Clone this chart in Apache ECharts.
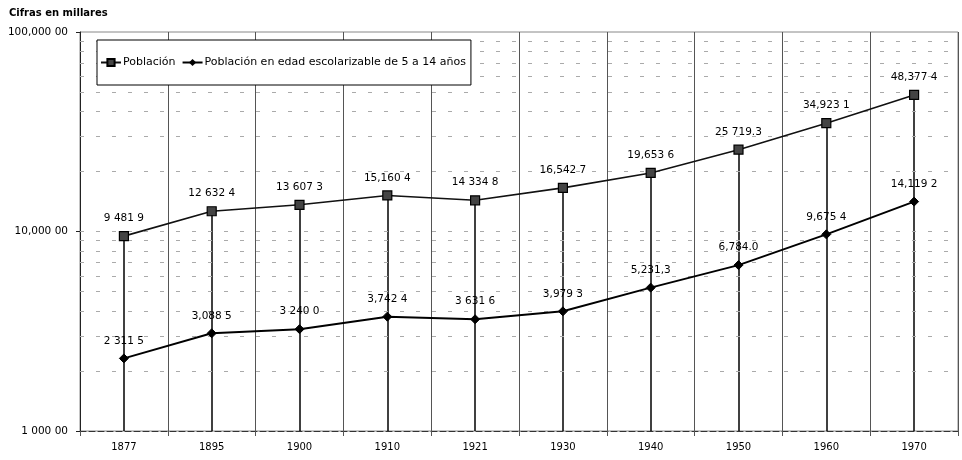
<!DOCTYPE html>
<html>
<head>
<meta charset="utf-8">
<script src="https://cdn.jsdelivr.net/npm/echarts@6/dist/echarts.min.js"></script>
<style>
html,body{margin:0;padding:0;background:#fff;}
#chart{width:962px;height:460px;}
</style>
</head>
<body>
<div id="chart"></div>
<script>
var years = ['1877','1895','1900','1910','1921','1930','1940','1950','1960','1970'];
var poblacion = [9481.9, 12632.4, 13607.3, 15160.4, 14334.8, 16542.7, 19653.6, 25719.3, 34923.1, 48377.4];
var escolar = [2311.5, 3088.5, 3240.0, 3742.4, 3631.6, 3979.3, 5231.3, 6784.0, 9675.4, 14119.2];
var poblacionLabels = ['9 481 9','12 632 4','13 607 3','15,160 4','14 334 8','16,542 7','19,653 6','25 719.3','34,923 1','48,377 4'];
var escolarLabels = ['2 311 5','3,088 5','3 240 0','3,742 4','3 631 6','3,979 3','5,231,3','6,784.0','9,675 4','14,119 2'];
var yTickValues = [1000, 10000, 100000];
var yTickLabels = ['1 000 00', '10,000 00', '100,000 00'];
var minorGridValues = [2000,3000,4000,5000,6000,7000,8000,9000,10000,20000,30000,40000,50000,60000,70000,80000,90000];
var seriesNames = ['Población', 'Población en edad escolarizable de 5 a 14 años'];
var titleText = 'Cifras en millares';

var FONT = '"DejaVu Sans", sans-serif';
var chart = echarts.init(document.getElementById('chart'));

var dropLines = years.map(function (y, i) {
  return [{coord: [y, poblacion[i]]}, {coord: [y, yTickValues[0]]}];
});
var gridLines = minorGridValues.map(function (v) { return {yAxis: v}; });

chart.setOption({
  animation: false,
  backgroundColor: '#fff',
  title: {
    text: titleText,
    left: 4, top: 3,
    textStyle: {fontFamily: FONT, fontSize: 10, fontWeight: 'bold', color: '#000'}
  },
  legend: {
    left: 97, top: 40,
    z: 20,
    padding: [17, 5, 17, 3],
    backgroundColor: '#fff',
    borderColor: '#000',
    borderWidth: 1,
    itemWidth: 20, itemHeight: 9, itemGap: 6,
    textStyle: {fontFamily: FONT, fontSize: 11, color: '#000', padding: [0, 0, 0, -3]},
    data: seriesNames
  },
  grid: {
    left: 80, right: 4, top: 32, bottom: 29,
    show: true, borderColor: '#888', borderWidth: 1, backgroundColor: 'transparent'
  },
  xAxis: {
    type: 'category',
    data: years,
    boundaryGap: true,
    axisLine: {lineStyle: {color: '#333', width: 1, type: [6, 3]}},
    axisTick: {show: true, length: 5, lineStyle: {color: '#555'}},
    axisLabel: {fontFamily: FONT, fontSize: 10, color: '#000', margin: 11},
    splitLine: {show: true, lineStyle: {color: '#555', width: 1}}
  },
  yAxis: {
    type: 'log',
    logBase: 10,
    min: 1000, max: 100000,
    axisLine: {show: true, lineStyle: {color: '#222', width: 1}},
    axisTick: {show: true, length: 4, lineStyle: {color: '#222'}},
    axisLabel: {
      fontFamily: FONT, fontSize: 10.5, color: '#000', margin: 12,
      formatter: function (v) {
        var idx = yTickValues.indexOf(Math.round(v));
        return idx >= 0 ? yTickLabels[idx] : '';
      }
    },
    splitLine: {show: false}
  },
  series: [
    {
      name: seriesNames[0],
      type: 'line',
      data: poblacion,
      z: 5,
      symbol: 'rect',
      symbolSize: 9,
      itemStyle: {color: '#444', borderColor: '#000', borderWidth: 1.2},
      lineStyle: {color: '#111', width: 1.6},
      label: {
        show: true, position: 'top', distance: 7,
        fontFamily: FONT, fontSize: 10.5, color: '#000',
        formatter: function (p) { return poblacionLabels[p.dataIndex]; }
      },
      markLine: {
        silent: true, symbol: ['none', 'none'], animation: false,
        label: {show: false},
        lineStyle: {color: '#000', width: 1.5, type: 'solid'},
        data: dropLines
      }
    },
    {
      name: seriesNames[1],
      type: 'line',
      data: escolar,
      z: 5,
      symbol: 'diamond',
      symbolSize: 9,
      itemStyle: {color: '#000', borderColor: '#000'},
      lineStyle: {color: '#000', width: 2},
      label: {
        show: true, position: 'top', distance: 7,
        fontFamily: FONT, fontSize: 10.5, color: '#000',
        formatter: function (p) { return escolarLabels[p.dataIndex]; }
      },
      markLine: {
        silent: true, symbol: ['none', 'none'], animation: false,
        label: {show: false},
        lineStyle: {color: '#aaa', width: 1, type: [4, 12]},
        data: gridLines
      }
    }
  ]
});
</script>
</body>
</html>
